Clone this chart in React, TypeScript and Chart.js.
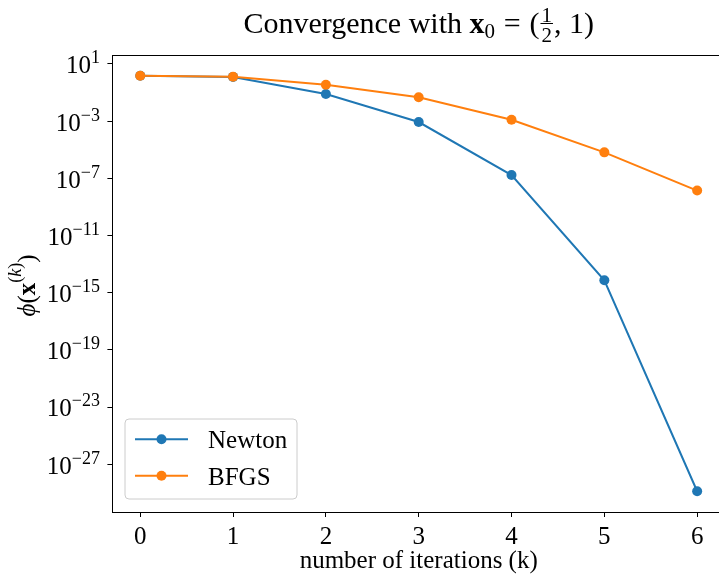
import React, { useEffect, useRef } from "react";
import { Chart, registerables } from "chart.js";

Chart.register(...registerables);

// ---- data ----
const iterations = [0, 1, 2, 3, 4, 5, 6];
const newtonValues = [1.5, 1.25, 0.08, 8.7e-4, 1.7e-7, 7.4e-15, 1.3e-29];
const bfgsValues = [1.5, 1.3, 0.355, 0.047, 1.26e-3, 6.6e-6, 1.4e-8];
const seriesNames = ["Newton", "BFGS"];
const seriesColors = ["#1f77b4", "#ff7f0e"];
const xTicks = [0, 1, 2, 3, 4, 5, 6];
const yTickExponents = [1, -3, -7, -11, -15, -19, -23, -27];
const xLabel = "number of iterations (k)";

const FONT = '"Liberation Serif", "DejaVu Serif", serif';
const LS = 25; // label size
const TS = 30; // title size

function logRange(values: number[]): [number, number] {
  const logs = values.map((v) => Math.log10(v));
  const lo = Math.min(...logs);
  const hi = Math.max(...logs);
  const m = (hi - lo) * 0.05;
  return [Math.pow(10, lo - m), Math.pow(10, hi + m)];
}

function linRange(values: number[]): [number, number] {
  const lo = Math.min(...values);
  const hi = Math.max(...values);
  const m = (hi - lo) * 0.05;
  return [lo - m, hi + m];
}

type Run = { text?: string; font: string; dy?: number; frac?: [string, string]; w?: number };

function runWidth(ctx: CanvasRenderingContext2D, r: Run): number {
  ctx.font = r.font;
  if (r.frac) {
    return Math.max(ctx.measureText(r.frac[0]).width, ctx.measureText(r.frac[1]).width) + 4;
  }
  if (r.w !== undefined) return r.w;
  return ctx.measureText(r.text || "").width;
}

function drawRuns(
  ctx: CanvasRenderingContext2D,
  runs: Run[],
  x: number,
  y: number,
  align: "left" | "center" | "right"
) {
  const widths = runs.map((r) => runWidth(ctx, r));
  const total = widths.reduce((a, b) => a + b, 0);
  let cx = align === "left" ? x : align === "center" ? x - total / 2 : x - total;
  ctx.textAlign = "left";
  ctx.textBaseline = "alphabetic";
  runs.forEach((r, i) => {
    ctx.font = r.font;
    if (r.frac) {
      const w = widths[i];
      ctx.textAlign = "center";
      ctx.fillText(r.frac[0], cx + w / 2, y - 11.5);
      ctx.fillText(r.frac[1], cx + w / 2, y + 8.5);
      ctx.textAlign = "left";
      ctx.fillRect(cx + 1, y - 10, w - 2, 1);
    } else if (r.w !== undefined) {
      ctx.textAlign = "center";
      ctx.fillText(r.text || "", cx + r.w / 2, y + (r.dy || 0));
      ctx.textAlign = "left";
    } else {
      ctx.fillText(r.text || "", cx, y + (r.dy || 0));
    }
    cx += widths[i];
  });
}

const textPlugin = {
  id: "mplText",
  afterDraw(chart: any) {
    const ctx: CanvasRenderingContext2D = chart.ctx;
    const ca = chart.chartArea;
    const yScale = chart.scales.y;
    ctx.save();
    ctx.beginPath();
    ctx.fillStyle = "#000";

    // title
    const n = `${TS}px ${FONT}`;
    const s = `${Math.round(TS * 0.7)}px ${FONT}`;
    drawRuns(
      ctx,
      [
        { text: "Convergence with ", font: n },
        { text: "x", font: `bold ${TS}px ${FONT}` },
        { text: "0", font: s, dy: 5 },
        { text: "=", font: n, w: TS * 1.15 },
        { text: "(", font: n },
        { frac: ["1", "2"], font: s },
        { text: ", 1)", font: n },
      ],
      (ca.left + ca.right) / 2,
      33,
      "center"
    );

    // y tick labels
    const tickMain = `${LS}px ${FONT}`;
    const tickSup = `${Math.round(LS * 0.7)}px ${FONT}`;
    yTickExponents.forEach((e) => {
      const py = yScale.getPixelForValue(Math.pow(10, e));
      const expText = e < 0 ? "\u2212" + Math.abs(e) : String(e);
      drawRuns(
        ctx,
        [
          { text: "10", font: tickMain },
          { text: expText, font: tickSup, dy: -10 },
        ],
        ca.left - 12.4,
        py + 9.4,
        "right"
      );
    });

    // y axis label (rotated)
    ctx.save();
    ctx.translate(35, (ca.top + ca.bottom) / 2 + 2);
    ctx.rotate(-Math.PI / 2);
    drawRuns(
      ctx,
      [
        { text: "\u03D5", font: `italic ${LS}px ${FONT}` },
        { text: "(", font: `${LS}px ${FONT}` },
        { text: "x", font: `bold ${LS}px ${FONT}` },
        { text: "(", font: tickSup, dy: -14 },
        { text: "k", font: `italic ${tickSup}`, dy: -14 },
        { text: ")", font: tickSup, dy: -14 },
        { text: ")", font: `${LS}px ${FONT}` },
      ],
      0,
      0,
      "center"
    );
    ctx.restore();

    // legend
    const bx = ca.left + 12.6;
    const by = ca.bottom - 93;
    const bw = 172;
    const bh = 80;
    const r = 4;
    ctx.beginPath();
    ctx.moveTo(bx + r, by);
    ctx.lineTo(bx + bw - r, by);
    ctx.quadraticCurveTo(bx + bw, by, bx + bw, by + r);
    ctx.lineTo(bx + bw, by + bh - r);
    ctx.quadraticCurveTo(bx + bw, by + bh, bx + bw - r, by + bh);
    ctx.lineTo(bx + r, by + bh);
    ctx.quadraticCurveTo(bx, by + bh, bx, by + bh - r);
    ctx.lineTo(bx, by + r);
    ctx.quadraticCurveTo(bx, by, bx + r, by);
    ctx.closePath();
    ctx.fillStyle = "rgba(255,255,255,0.8)";
    ctx.fill();
    ctx.strokeStyle = "#cccccc";
    ctx.lineWidth = 1;
    ctx.stroke();

    seriesNames.forEach((name, i) => {
      const ry = by + 20.3 + i * 36.4;
      ctx.strokeStyle = seriesColors[i];
      ctx.lineWidth = 2;
      ctx.beginPath();
      ctx.moveTo(bx + 10, ry);
      ctx.lineTo(bx + 63, ry);
      ctx.stroke();
      ctx.fillStyle = seriesColors[i];
      ctx.beginPath();
      ctx.arc(bx + 36.5, ry, 5, 0, Math.PI * 2);
      ctx.fill();
      ctx.fillStyle = "#000";
      ctx.font = `${LS}px ${FONT}`;
      ctx.textAlign = "left";
      ctx.textBaseline = "alphabetic";
      ctx.fillText(name, bx + 83, ry + 9);
    });

    ctx.restore();
  },
};

export default function App() {
  const canvasRef = useRef<HTMLCanvasElement | null>(null);

  useEffect(() => {
    const canvas = canvasRef.current;
    if (!canvas) return;
    const [yMin, yMax] = logRange([...newtonValues, ...bfgsValues]);
    const [xMin, xMax] = linRange(iterations);
    const series = [newtonValues, bfgsValues];

    const chart = new Chart(canvas, {
      type: "line",
      data: {
        datasets: series.map((vals, i) => ({
          label: seriesNames[i],
          data: iterations.map((k, j) => ({ x: k, y: vals[j] })),
          borderColor: seriesColors[i],
          backgroundColor: seriesColors[i],
          pointBackgroundColor: seriesColors[i],
          pointBorderWidth: 0,
          pointRadius: 5,
          borderWidth: 2,
          tension: 0,
          fill: false,
          order: series.length - 1 - i,
        })),
      },
      options: {
        animation: false,
        responsive: false,
        devicePixelRatio: 1,
        layout: { padding: { top: 55, right: 3, left: 0, bottom: 0 } },
        plugins: {
          legend: { display: false },
          tooltip: { enabled: false },
          title: { display: false },
        },
        scales: {
          x: {
            type: "linear",
            min: xMin,
            max: xMax,
            afterBuildTicks: (sc: any) => {
              sc.ticks = xTicks.map((v) => ({ value: v }));
            },
            afterFit: (sc: any) => {
              sc.height = 66;
            },
            grid: {
              display: true,
              drawOnChartArea: false,
              drawTicks: true,
              tickLength: 5,
              color: "#000",
              lineWidth: 1,
            },
            border: { display: true, color: "#000", width: 1 },
            ticks: {
              color: "#000",
              font: { family: FONT, size: LS },
              padding: 5,
              maxRotation: 0,
              autoSkip: false,
            },
            title: {
              display: true,
              text: xLabel,
              color: "#000",
              font: { family: FONT, size: LS },
              padding: { top: 0, bottom: 2 },
            },
          },
          xTop: {
            type: "linear",
            position: "top",
            min: xMin,
            max: xMax,
            afterFit: (sc: any) => {
              sc.height = 0;
            },
            grid: { display: false, drawTicks: false },
            border: { display: true, color: "#000", width: 1 },
            ticks: { display: false },
          },
          y: {
            type: "logarithmic",
            min: yMin,
            max: yMax,
            afterBuildTicks: (sc: any) => {
              sc.ticks = yTickExponents.map((e) => ({ value: Math.pow(10, e) }));
            },
            afterFit: (sc: any) => {
              sc.width = 112.4;
            },
            grid: {
              display: true,
              drawOnChartArea: false,
              drawTicks: true,
              tickLength: 5,
              color: "#000",
              lineWidth: 1,
            },
            border: { display: true, color: "#000", width: 1 },
            ticks: { display: false },
          },
        },
      } as any,
      plugins: [textPlugin],
    });

    return () => chart.destroy();
  }, []);

  return (
    <div
      style={{
        position: "fixed",
        left: 0,
        top: 0,
        width: 719,
        height: 578,
        overflow: "hidden",
        background: "#fff",
      }}
    >
      <canvas ref={canvasRef} width={730} height={578} style={{ width: 730, height: 578, display: "block" }} />
    </div>
  );
}
